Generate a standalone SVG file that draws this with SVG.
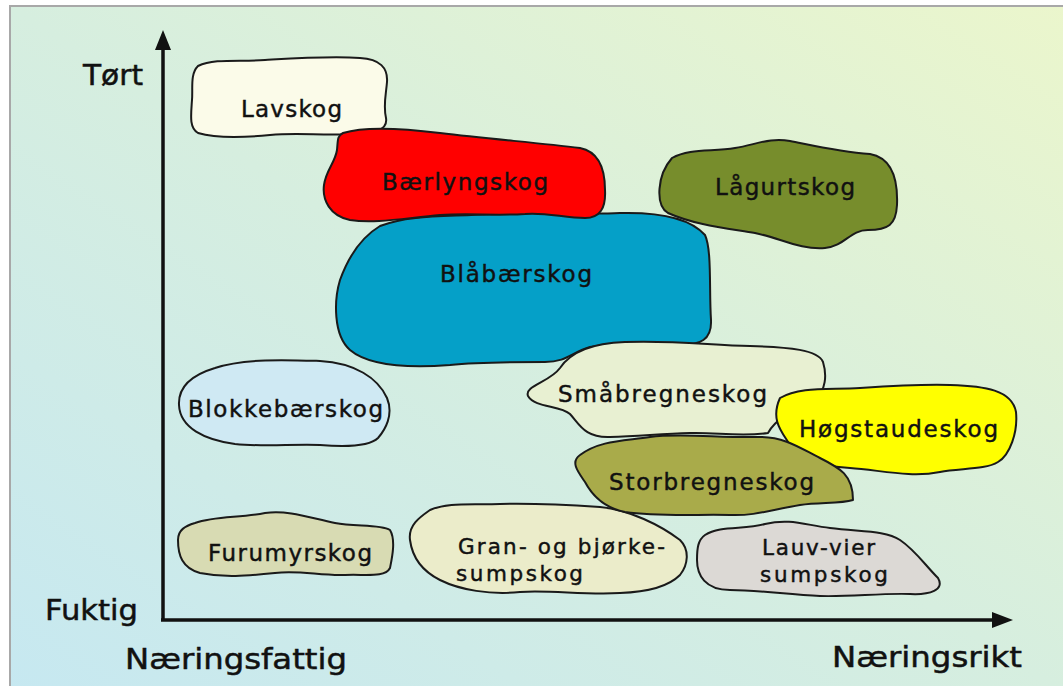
<svg xmlns="http://www.w3.org/2000/svg" width="1063" height="686" viewBox="0 0 1063 686">
<style>
.blob{stroke:#1a1a1a;stroke-width:2;stroke-linejoin:round}
.lbl{font-family:"DejaVu Sans","Liberation Sans",Arial,sans-serif;font-size:23px;fill:#111;stroke:#111;stroke-width:0.45}
.sm{font-size:21.5px}
.ax{font-family:"DejaVu Sans","Liberation Sans",Arial,sans-serif;font-size:29px;fill:#111;stroke:#111;stroke-width:0.5}
.axis{stroke:#111;stroke-width:3.5;fill:none}
</style>
<defs>
<linearGradient id="bg" x1="0" y1="1" x2="1" y2="0">
<stop offset="0" stop-color="#c6e8f1"/>
<stop offset="0.5" stop-color="#d6eedf"/>
<stop offset="1" stop-color="#ebf6cc"/>
</linearGradient>
</defs>
<rect x="0" y="0" width="1063" height="686" fill="#ffffff"/>
<rect x="10" y="6" width="1060" height="690" fill="url(#bg)" stroke="#a8a8a8" stroke-width="2"/>

<g id="connectors">
<line class="axis" x1="163" y1="621" x2="163" y2="46"/>
<polygon points="163,30 155,50 171,50" fill="#111"/>
<line class="axis" x1="161" y1="620" x2="995" y2="620"/>
<polygon points="1013,620 992,612 992,628" fill="#111"/>
</g>

<g id="axis-labels">
<text class="ax" x="83" y="85" textLength="60" lengthAdjust="spacingAndGlyphs">Tørt</text>
<text class="ax" x="45" y="620" textLength="93" lengthAdjust="spacingAndGlyphs">Fuktig</text>
<text class="ax" x="125" y="669" textLength="222" lengthAdjust="spacingAndGlyphs">Næringsfattig</text>
<text class="ax" x="832" y="667" textLength="190" lengthAdjust="spacingAndGlyphs">Næringsrikt</text>
</g>

<g id="lavskog">
<path class="blob" fill="#fbfbe9" d="M 198,66 C 215,58 240,62 265,60 C 300,58 330,56 360,58 C 380,59 388,68 387,82 C 386,95 383,105 386,118 C 388,130 375,133 355,134 C 320,136 300,132 270,135 C 240,138 215,138 198,133 C 189,128 191,115 192,100 C 193,88 190,74 198,66 Z"/>
<text class="lbl" x="241" y="117" textLength="101" lengthAdjust="spacing">Lavskog</text>
</g>

<g id="blabaerskog">
<path class="blob" fill="#05a0c8" d="M 380,226 C 410,214 450,217 490,214 C 540,211 580,215 620,213 C 660,212 690,218 705,235 C 712,250 709,290 711,320 C 712,340 700,345 680,345 C 650,345 615,342 590,347 C 572,352 567,362 545,362 C 510,362 480,362 450,365 C 410,368 370,367 350,350 C 333,335 334,300 340,280 C 348,258 360,238 380,226 Z"/>
<text class="lbl" x="440" y="282" textLength="152" lengthAdjust="spacing">Blåbærskog</text>
</g>

<g id="baerlyngskog">
<path class="blob" fill="#ff0000" d="M 343,133 C 365,126 400,128 440,133 C 490,139 540,143 580,148 C 600,152 605,170 605,190 C 606,208 600,218 585,218 C 565,218 545,212 525,214 C 495,216 470,213 440,215 C 405,218 375,224 350,220 C 330,216 322,200 324,185 C 326,170 335,163 337,150 C 338,140 337,136 343,133 Z"/>
<text class="lbl" x="382" y="190" textLength="166" lengthAdjust="spacing">Bærlyngskog</text>
</g>

<g id="lagurtskog">
<path class="blob" fill="#778d2c" d="M 672,158 C 690,148 712,152 735,148 C 755,145 770,137 790,141 C 815,146 840,152 870,154 C 892,158 898,180 897,205 C 896,225 888,230 868,230 C 850,230 845,246 825,248 C 800,250 780,238 755,233 C 725,228 695,225 668,213 C 655,205 657,175 672,158 Z"/>
<text class="lbl" x="715" y="195" textLength="140" lengthAdjust="spacing">Lågurtskog</text>
</g>

<g id="blokkebaerskog">
<path class="blob" fill="#cfe9f3" d="M 215,368 C 245,358 290,360 320,361 C 355,363 378,378 387,398 C 394,415 385,430 378,438 C 370,446 345,447 320,445 C 290,444 265,447 235,444 C 205,440 180,428 179,405 C 178,385 195,374 215,368 Z"/>
<text class="lbl" x="188" y="417" textLength="195" lengthAdjust="spacing">Blokkebærskog</text>
</g>

<g id="smabregneskog">
<path class="blob" fill="#e8f0d2" d="M 560,368 C 572,350 595,343 625,342 C 670,340 710,345 750,346 C 790,347 818,350 823,362 C 827,375 826,390 815,400 C 790,410 775,420 768,433 C 740,437 715,432 690,433 C 660,434 640,436 610,437 C 585,438 580,425 570,414 C 560,405 535,408 528,396 C 524,386 550,382 560,368 Z"/>
<text class="lbl" x="558" y="402" textLength="209" lengthAdjust="spacing">Småbregneskog</text>
</g>

<g id="hogstaudeskog">
<path class="blob" fill="#ffff00" d="M 780,398 C 800,386 830,390 860,388 C 890,386 920,384 950,385 C 985,386 1012,390 1016,412 C 1018,432 1010,455 998,462 C 985,470 960,468 940,472 C 910,478 880,470 850,468 C 820,466 800,460 790,445 C 782,432 770,420 780,398 Z"/>
<text class="lbl" x="799" y="437" textLength="199" lengthAdjust="spacing">Høgstaudeskog</text>
</g>

<g id="gran-og-bjorkesumpskog">
<path class="blob" fill="#ebecca" d="M 430,510 C 448,502 470,505 500,504 C 540,503 570,505 600,507 C 630,510 660,525 680,540 C 690,550 688,565 680,575 C 670,585 650,592 620,593 C 585,595 550,590 520,592 C 490,595 460,590 440,580 C 420,570 412,555 410,540 C 408,525 420,517 430,510 Z"/>
<text class="lbl sm" x="458" y="554" textLength="207" lengthAdjust="spacing">Gran- og bjørke-</text>
<text class="lbl sm" x="456" y="581" textLength="127" lengthAdjust="spacing">sumpskog</text>
</g>

<g id="lauv-vier-sumpskog">
<path class="blob" fill="#dcd9d5" d="M 705,535 C 720,525 745,530 765,524 C 790,518 805,525 830,528 C 860,532 885,530 900,540 C 915,550 925,565 938,578 C 945,590 930,595 910,594 C 880,593 850,597 820,596 C 790,595 760,590 730,590 C 705,590 697,575 697,560 C 697,548 698,540 705,535 Z"/>
<text class="lbl sm" x="762" y="555" textLength="113" lengthAdjust="spacing">Lauv-vier</text>
<text class="lbl sm" x="760" y="582" textLength="128" lengthAdjust="spacing">sumpskog</text>
</g>

<g id="storbregneskog">
<path class="blob" fill="#a9ab4a" d="M 580,455 C 600,440 625,441 650,437 C 680,433 720,438 760,437 C 785,437 800,448 820,458 C 840,468 853,475 853,500 C 840,504 820,502 800,505 C 770,510 755,516 730,515 C 700,514 660,517 625,512 C 605,508 592,495 585,482 C 578,472 570,462 580,455 Z"/>
<text class="lbl" x="609" y="490" textLength="205" lengthAdjust="spacing">Storbregneskog</text>
</g>

<g id="furumyrskog">
<path class="blob" fill="#d8dbb3" d="M 195,523 C 215,516 240,518 265,513 C 290,510 310,518 335,523 C 355,527 380,524 390,530 C 396,540 392,558 390,568 C 385,578 365,574 345,575 C 320,576 300,570 275,573 C 245,576 225,578 200,573 C 182,568 178,555 178,540 C 178,530 185,526 195,523 Z"/>
<text class="lbl" x="208" y="561" textLength="164" lengthAdjust="spacing">Furumyrskog</text>
</g>
</svg>
